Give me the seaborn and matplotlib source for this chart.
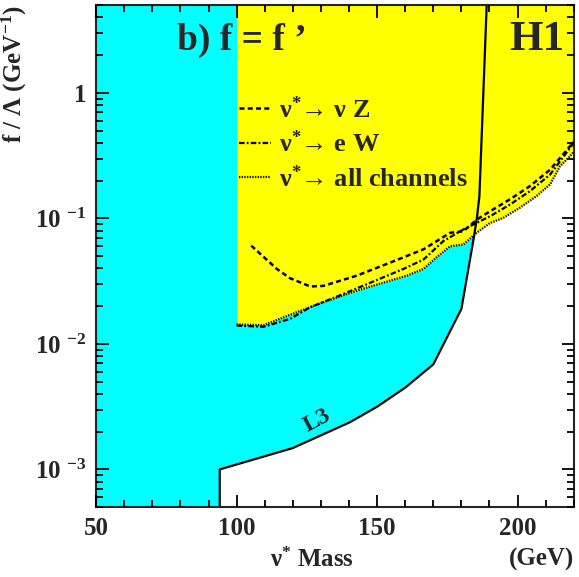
import numpy as np
import matplotlib
matplotlib.use("Agg")
from matplotlib import pyplot as plt
from matplotlib.ticker import FixedLocator, FixedFormatter, LogLocator, MultipleLocator, NullFormatter
import seaborn as sns

sns.set_style("ticks")
plt.rcParams['font.family'] = ['Liberation Serif', 'DejaVu Serif']
plt.rcParams['font.weight'] = 'bold'
plt.rcParams['mathtext.fontset'] = 'custom'
plt.rcParams['mathtext.rm'] = 'Liberation Serif:bold'
plt.rcParams['mathtext.bf'] = 'Liberation Serif:bold'
plt.rcParams['mathtext.it'] = 'Liberation Serif:bold'
plt.rcParams['mathtext.default'] = 'bf'

# L3 exclusion boundary
l3_mass = [94, 94, 120, 140.4, 150, 160, 170, 180, 184.3, 185.5, 186.4, 189]
l3_f = [5e-4, 1e-3, 1.48e-3, 2.38e-3, 3.16e-3, 4.48e-3, 6.87e-3, 1.9e-2, 6.8e-2, 0.1, 0.15, 5.0]

# H1 limits
nuz_mass = [105.2, 114.3, 119, 126.2, 130.9, 142.8, 154.6, 166.5, 176, 180.7, 185.5, 190.2, 197.3, 204.4, 211.6, 218.7, 220]
nuz_f = [0.0607, 0.0396, 0.0334, 0.0287, 0.029, 0.035, 0.0444, 0.0567, 0.0768, 0.079, 0.098, 0.114, 0.142, 0.181, 0.245, 0.377, 0.41]

ew_mass = [100, 109.5, 119, 126.2, 138, 159.4, 166.5, 173.6, 180.7, 190.2, 197.3, 204.4, 211.6, 220]
ew_f = [0.014, 0.0137, 0.0158, 0.0196, 0.025, 0.0396, 0.047, 0.066, 0.0817, 0.104, 0.129, 0.165, 0.224, 0.40]

all_mass = [100, 109.5, 121.4, 130.9, 142.8, 160.6, 166.5, 171.2, 176, 180.7, 185.5, 190.2, 194.9, 200.9, 206.8, 211.6, 215.1, 218.7, 220]
all_f = [0.0143, 0.0141, 0.0179, 0.0215, 0.0266, 0.035, 0.0396, 0.049, 0.060, 0.062, 0.077, 0.092, 0.101, 0.122, 0.151, 0.187, 0.261, 0.313, 0.34]

y_ticks = [1e-3, 1e-2, 1e-1, 1]
y_labels = ['10 $^{-3}$', '10 $^{-2}$', '10 $^{-1}$', '1']
ymin, ymax = 5e-4, 5.0

fig = plt.figure(figsize=(5.79, 5.77), dpi=100)
ax = fig.add_axes([0.166, 0.121, 0.825, 0.870])

# cyan L3 region
ax.fill(np.r_[50, l3_mass, 50], np.r_[ymin, l3_f, ymax], color='#00ffff', lw=0, zorder=0.2)
# yellow H1 region
ax.fill_between(all_mass, all_f, ymax, color='#ffff00', lw=0, zorder=0.3)

sns.lineplot(x=nuz_mass, y=nuz_f, ax=ax, color='black', lw=1.8, sort=False, estimator=None,
             label='\u03bd$^{*}$\u2192 \u03bd Z', zorder=4)
ax.lines[-1].set_dashes([2.0, 1.3])
sns.lineplot(x=ew_mass, y=ew_f, ax=ax, color='black', lw=1.6, sort=False, estimator=None,
             label='\u03bd$^{*}$\u2192 e W', zorder=4)
ax.lines[-1].set_dashes([2.5, 1.0, 0.8, 1.0])
sns.lineplot(x=all_mass, y=all_f, ax=ax, color='black', lw=1.6, sort=False, estimator=None,
             label='\u03bd$^{*}$\u2192 all channels', zorder=4)
ax.lines[-1].set_dashes([0.6, 0.6])
sns.lineplot(x=l3_mass, y=l3_f, ax=ax, color='black', lw=1.6, sort=False, estimator=None, zorder=5)

ax.set_yscale('log')
ax.set_xlim(50, 220)
ax.set_ylim(ymin, ymax)

ax.xaxis.set_major_locator(MultipleLocator(50))
ax.xaxis.set_minor_locator(MultipleLocator(10))
ax.yaxis.set_major_locator(FixedLocator(y_ticks))
ax.yaxis.set_major_formatter(FixedFormatter(y_labels))
ax.yaxis.set_minor_locator(LogLocator(base=10, subs=np.arange(2, 10)))
ax.yaxis.set_minor_formatter(NullFormatter())
ax.tick_params(which='both', direction='in', top=True, right=True, bottom=True, left=True,
               width=1.3, color='black', labelsize=18, pad=7)
ax.tick_params(which='major', length=9)
ax.tick_params(which='minor', length=5)
for lab in ax.get_xticklabels() + ax.get_yticklabels():
    lab.set_fontweight('bold')
for sp in ax.spines.values():
    sp.set_linewidth(1.5)
    sp.set_zorder(6)
ax.xaxis.set_zorder(6)
ax.yaxis.set_zorder(6)

leg = ax.legend(loc='upper left', bbox_to_anchor=(0.277, 0.84), frameon=False,
                handlelength=1.2, handletextpad=0.3, labelspacing=0.3, fontsize=19,
                borderaxespad=0)
for t in leg.get_texts():
    t.set_fontweight('bold')

ax.text(0.17, 0.93, 'b) f = f \u2019', transform=ax.transAxes, fontsize=27,
        fontweight='bold', ha='left', va='center', zorder=7)
ax.text(0.98, 0.93, 'H1', transform=ax.transAxes, fontsize=31,
        fontweight='bold', ha='right', va='center', zorder=7)
ax.text(128.6, 2.45e-3, 'L3', fontsize=17, fontweight='bold', rotation=28,
        ha='center', va='center', zorder=7)

ax.text(0.452, -0.105, '\u03bd$^{*}$ Mass', transform=ax.transAxes, fontsize=18,
        fontweight='bold', ha='center', va='center')
ax.text(1.0, -0.105, '(GeV)', transform=ax.transAxes, fontsize=18,
        fontweight='bold', ha='right', va='center')
ax.set_ylabel('f / \u039b (GeV$^{-1}$)', fontsize=18, fontweight='bold', loc='top', labelpad=4)

fig.savefig('out.png', dpi=100)
